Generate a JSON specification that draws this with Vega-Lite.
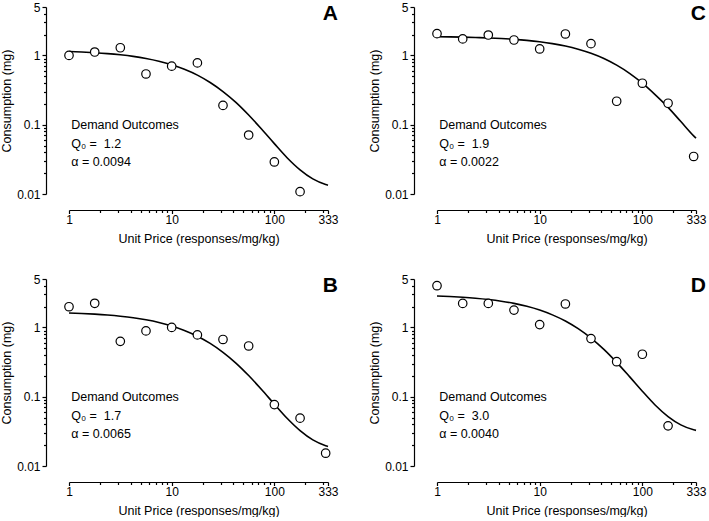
{
  "$schema": "https://vega.github.io/schema/vega-lite/v6.json",
  "padding": {"left": 0, "top": 1, "right": 0, "bottom": 0},
  "background": "white",
  "datasets": {
    "obs": [
      {"panel": "A", "price": 1, "consumption": 1.0},
      {"panel": "A", "price": 1.78, "consumption": 1.12},
      {"panel": "A", "price": 3.16, "consumption": 1.29},
      {"panel": "A", "price": 5.62, "consumption": 0.54},
      {"panel": "A", "price": 10, "consumption": 0.70},
      {"panel": "A", "price": 17.8, "consumption": 0.78},
      {"panel": "A", "price": 31.6, "consumption": 0.19},
      {"panel": "A", "price": 56.2, "consumption": 0.071},
      {"panel": "A", "price": 100, "consumption": 0.029},
      {"panel": "A", "price": 178, "consumption": 0.0108},
      {"panel": "B", "price": 1, "consumption": 1.99},
      {"panel": "B", "price": 1.78, "consumption": 2.23},
      {"panel": "B", "price": 3.16, "consumption": 0.63},
      {"panel": "B", "price": 5.62, "consumption": 0.89},
      {"panel": "B", "price": 10, "consumption": 1.0},
      {"panel": "B", "price": 17.8, "consumption": 0.78},
      {"panel": "B", "price": 31.6, "consumption": 0.67},
      {"panel": "B", "price": 56.2, "consumption": 0.54},
      {"panel": "B", "price": 100, "consumption": 0.077},
      {"panel": "B", "price": 178, "consumption": 0.049},
      {"panel": "B", "price": 316, "consumption": 0.0153},
      {"panel": "C", "price": 1, "consumption": 2.06},
      {"panel": "C", "price": 1.78, "consumption": 1.73},
      {"panel": "C", "price": 3.16, "consumption": 1.97},
      {"panel": "C", "price": 5.62, "consumption": 1.67},
      {"panel": "C", "price": 10, "consumption": 1.24},
      {"panel": "C", "price": 17.8, "consumption": 2.04},
      {"panel": "C", "price": 31.6, "consumption": 1.48},
      {"panel": "C", "price": 56.2, "consumption": 0.218},
      {"panel": "C", "price": 100, "consumption": 0.397},
      {"panel": "C", "price": 178, "consumption": 0.204},
      {"panel": "C", "price": 316, "consumption": 0.0348},
      {"panel": "D", "price": 1, "consumption": 4.0},
      {"panel": "D", "price": 1.78, "consumption": 2.22},
      {"panel": "D", "price": 3.16, "consumption": 2.22},
      {"panel": "D", "price": 5.62, "consumption": 1.78},
      {"panel": "D", "price": 10, "consumption": 1.10},
      {"panel": "D", "price": 17.8, "consumption": 2.18},
      {"panel": "D", "price": 31.6, "consumption": 0.69},
      {"panel": "D", "price": 56.2, "consumption": 0.32},
      {"panel": "D", "price": 100, "consumption": 0.41},
      {"panel": "D", "price": 178, "consumption": 0.038}
    ],
    "fit": [
      {"panel": "A", "price": 1, "consumption": 1.140},
      {"panel": "A", "price": 1.33, "consumption": 1.120},
      {"panel": "A", "price": 1.78, "consumption": 1.095},
      {"panel": "A", "price": 2.37, "consumption": 1.063},
      {"panel": "A", "price": 3.16, "consumption": 1.021},
      {"panel": "A", "price": 4.22, "consumption": 0.969},
      {"panel": "A", "price": 5.62, "consumption": 0.904},
      {"panel": "A", "price": 7.5, "consumption": 0.826},
      {"panel": "A", "price": 10, "consumption": 0.734},
      {"panel": "A", "price": 13.3, "consumption": 0.631},
      {"panel": "A", "price": 17.8, "consumption": 0.520},
      {"panel": "A", "price": 23.7, "consumption": 0.407},
      {"panel": "A", "price": 31.6, "consumption": 0.301},
      {"panel": "A", "price": 42.2, "consumption": 0.210},
      {"panel": "A", "price": 56.2, "consumption": 0.138},
      {"panel": "A", "price": 75, "consumption": 0.0866},
      {"panel": "A", "price": 100, "consumption": 0.0533},
      {"panel": "A", "price": 133, "consumption": 0.0334},
      {"panel": "A", "price": 178, "consumption": 0.0223},
      {"panel": "A", "price": 237, "consumption": 0.0165},
      {"panel": "A", "price": 316, "consumption": 0.0137},
      {"panel": "A", "price": 333, "consumption": 0.0134},
      {"panel": "B", "price": 1, "consumption": 1.616},
      {"panel": "B", "price": 1.33, "consumption": 1.589},
      {"panel": "B", "price": 1.78, "consumption": 1.554},
      {"panel": "B", "price": 2.37, "consumption": 1.509},
      {"panel": "B", "price": 3.16, "consumption": 1.451},
      {"panel": "B", "price": 4.22, "consumption": 1.379},
      {"panel": "B", "price": 5.62, "consumption": 1.288},
      {"panel": "B", "price": 7.5, "consumption": 1.179},
      {"panel": "B", "price": 10, "consumption": 1.050},
      {"panel": "B", "price": 13.3, "consumption": 0.905},
      {"panel": "B", "price": 17.8, "consumption": 0.747},
      {"panel": "B", "price": 23.7, "consumption": 0.588},
      {"panel": "B", "price": 31.6, "consumption": 0.437},
      {"panel": "B", "price": 42.2, "consumption": 0.306},
      {"panel": "B", "price": 56.2, "consumption": 0.202},
      {"panel": "B", "price": 75, "consumption": 0.127},
      {"panel": "B", "price": 100, "consumption": 0.0781},
      {"panel": "B", "price": 133, "consumption": 0.0488},
      {"panel": "B", "price": 178, "consumption": 0.0324},
      {"panel": "B", "price": 237, "consumption": 0.0238},
      {"panel": "B", "price": 316, "consumption": 0.0196},
      {"panel": "B", "price": 333, "consumption": 0.0191},
      {"panel": "C", "price": 1, "consumption": 1.864},
      {"panel": "C", "price": 1.33, "consumption": 1.852},
      {"panel": "C", "price": 1.78, "consumption": 1.836},
      {"panel": "C", "price": 2.37, "consumption": 1.816},
      {"panel": "C", "price": 3.16, "consumption": 1.789},
      {"panel": "C", "price": 4.22, "consumption": 1.753},
      {"panel": "C", "price": 5.62, "consumption": 1.707},
      {"panel": "C", "price": 7.5, "consumption": 1.648},
      {"panel": "C", "price": 10, "consumption": 1.573},
      {"panel": "C", "price": 13.3, "consumption": 1.480},
      {"panel": "C", "price": 17.8, "consumption": 1.366},
      {"panel": "C", "price": 23.7, "consumption": 1.230},
      {"panel": "C", "price": 31.6, "consumption": 1.074},
      {"panel": "C", "price": 42.2, "consumption": 0.903},
      {"panel": "C", "price": 56.2, "consumption": 0.724},
      {"panel": "C", "price": 75, "consumption": 0.552},
      {"panel": "C", "price": 100, "consumption": 0.398},
      {"panel": "C", "price": 133, "consumption": 0.272},
      {"panel": "C", "price": 178, "consumption": 0.178},
      {"panel": "C", "price": 237, "consumption": 0.111},
      {"panel": "C", "price": 316, "consumption": 0.069},
      {"panel": "C", "price": 333, "consumption": 0.064},
      {"panel": "D", "price": 1, "consumption": 2.840},
      {"panel": "D", "price": 1.33, "consumption": 2.789},
      {"panel": "D", "price": 1.78, "consumption": 2.722},
      {"panel": "D", "price": 2.37, "consumption": 2.637},
      {"panel": "D", "price": 3.16, "consumption": 2.527},
      {"panel": "D", "price": 4.22, "consumption": 2.390},
      {"panel": "D", "price": 5.62, "consumption": 2.222},
      {"panel": "D", "price": 7.5, "consumption": 2.018},
      {"panel": "D", "price": 10, "consumption": 1.782},
      {"panel": "D", "price": 13.3, "consumption": 1.518},
      {"panel": "D", "price": 17.8, "consumption": 1.238},
      {"panel": "D", "price": 23.7, "consumption": 0.959},
      {"panel": "D", "price": 31.6, "consumption": 0.701},
      {"panel": "D", "price": 42.2, "consumption": 0.482},
      {"panel": "D", "price": 56.2, "consumption": 0.313},
      {"panel": "D", "price": 75, "consumption": 0.195},
      {"panel": "D", "price": 100, "consumption": 0.120},
      {"panel": "D", "price": 133, "consumption": 0.0760},
      {"panel": "D", "price": 178, "consumption": 0.0517},
      {"panel": "D", "price": 237, "consumption": 0.0392},
      {"panel": "D", "price": 316, "consumption": 0.0333},
      {"panel": "D", "price": 333, "consumption": 0.0327}
    ],
    "notes": [
      {"panel": "A", "q0": "Q₀ =\u00a0\u00a01.2", "alpha": "α = 0.0094"},
      {"panel": "B", "q0": "Q₀ =\u00a0\u00a01.7", "alpha": "α = 0.0065"},
      {"panel": "C", "q0": "Q₀ =\u00a0\u00a01.9", "alpha": "α = 0.0022"},
      {"panel": "D", "q0": "Q₀ =\u00a0\u00a03.0", "alpha": "α = 0.0040"}
    ]
  },
  "columns": 2,
  "spacing": {"column": 29, "row": 28},
  "concat": [
    {
      "width": 259, "height": 187,
      "layer": [
        {"data": {"name": "fit"}, "transform": [{"filter": "datum.panel === 'A'"}], "mark": {"type": "line", "color": "black", "strokeWidth": 1.6, "interpolate": "monotone"},
         "encoding": {"x": {"field": "price", "type": "quantitative", "scale": {"type": "log", "domain": [1, 333], "nice": false}, "axis": {"title": "Unit Price (responses/mg/kg)", "values": [1, 2, 3, 4, 5, 6, 7, 8, 9, 10, 20, 30, 40, 50, 60, 70, 80, 90, 100, 200, 300, 333], "format": "~g", "labelExpr": "indexof([1, 10, 100, 333], datum.value) >= 0 ? datum.label : ''", "tickSize": {"condition": {"test": "indexof([1, 10, 100, 333], datum.value) >= 0", "value": 3.5}, "value": 2.5}, "offset": 16, "labelOverlap": false, "labelFlush": false, "labelPadding": 1, "titlePadding": 7}},
                      "y": {"field": "consumption", "type": "quantitative", "scale": {"type": "log", "domain": [0.01, 5], "nice": false}, "axis": {"title": "Consumption (mg)", "values": [0.01, 0.02, 0.03, 0.04, 0.05, 0.06, 0.07, 0.08, 0.09, 0.1, 0.2, 0.3, 0.4, 0.5, 0.6, 0.7, 0.8, 0.9, 1, 2, 3, 4, 5], "format": "~g", "labelExpr": "indexof([0.01, 0.1, 1, 5], datum.value) >= 0 ? datum.label : ''", "tickSize": {"condition": {"test": "indexof([0.01, 0.1, 1, 5], datum.value) >= 0", "value": 4}, "value": 2.5}, "offset": 23, "labelOverlap": false, "labelFlush": false, "labelPadding": 2, "titlePadding": 3}}}},
        {"data": {"name": "obs"}, "transform": [{"filter": "datum.panel === 'A'"}], "mark": {"type": "point", "shape": "circle", "filled": true, "fill": "white", "stroke": "black", "strokeWidth": 1.2, "size": 72, "opacity": 1},
         "encoding": {"x": {"field": "price", "type": "quantitative"}, "y": {"field": "consumption", "type": "quantitative"}}},
        {"data": {"name": "notes"}, "transform": [{"filter": "datum.panel === 'A'"}], "mark": {"type": "text", "align": "left", "baseline": "middle", "fontSize": 12.5},
         "encoding": {"x": {"datum": 1.05}, "y": {"datum": 0.1}, "text": {"value": "Demand Outcomes"}}},
        {"data": {"name": "notes"}, "transform": [{"filter": "datum.panel === 'A'"}], "mark": {"type": "text", "align": "left", "baseline": "middle", "fontSize": 12.5},
         "encoding": {"x": {"datum": 1.05}, "y": {"datum": 0.053}, "text": {"field": "q0"}}},
        {"data": {"name": "notes"}, "transform": [{"filter": "datum.panel === 'A'"}], "mark": {"type": "text", "align": "left", "baseline": "middle", "fontSize": 12.5},
         "encoding": {"x": {"datum": 1.05}, "y": {"datum": 0.0291}, "text": {"field": "alpha"}}},
        {"data": {"name": "notes"}, "transform": [{"filter": "datum.panel === 'A'"}], "mark": {"type": "text", "align": "right", "baseline": "alphabetic", "dx": 10, "fontSize": 21, "fontWeight": "bold"},
         "encoding": {"x": {"datum": 333}, "y": {"datum": 3.2}, "text": {"field": "panel"}}}
      ]
    },
    {
      "width": 259, "height": 187,
      "layer": [
        {"data": {"name": "fit"}, "transform": [{"filter": "datum.panel === 'C'"}], "mark": {"type": "line", "color": "black", "strokeWidth": 1.6, "interpolate": "monotone"},
         "encoding": {"x": {"field": "price", "type": "quantitative", "scale": {"type": "log", "domain": [1, 333], "nice": false}, "axis": {"title": "Unit Price (responses/mg/kg)", "values": [1, 2, 3, 4, 5, 6, 7, 8, 9, 10, 20, 30, 40, 50, 60, 70, 80, 90, 100, 200, 300, 333], "format": "~g", "labelExpr": "indexof([1, 10, 100, 333], datum.value) >= 0 ? datum.label : ''", "tickSize": {"condition": {"test": "indexof([1, 10, 100, 333], datum.value) >= 0", "value": 3.5}, "value": 2.5}, "offset": 16, "labelOverlap": false, "labelFlush": false, "labelPadding": 1, "titlePadding": 7}},
                      "y": {"field": "consumption", "type": "quantitative", "scale": {"type": "log", "domain": [0.01, 5], "nice": false}, "axis": {"title": "Consumption (mg)", "values": [0.01, 0.02, 0.03, 0.04, 0.05, 0.06, 0.07, 0.08, 0.09, 0.1, 0.2, 0.3, 0.4, 0.5, 0.6, 0.7, 0.8, 0.9, 1, 2, 3, 4, 5], "format": "~g", "labelExpr": "indexof([0.01, 0.1, 1, 5], datum.value) >= 0 ? datum.label : ''", "tickSize": {"condition": {"test": "indexof([0.01, 0.1, 1, 5], datum.value) >= 0", "value": 4}, "value": 2.5}, "offset": 23, "labelOverlap": false, "labelFlush": false, "labelPadding": 2, "titlePadding": 3}}}},
        {"data": {"name": "obs"}, "transform": [{"filter": "datum.panel === 'C'"}], "mark": {"type": "point", "shape": "circle", "filled": true, "fill": "white", "stroke": "black", "strokeWidth": 1.2, "size": 72, "opacity": 1},
         "encoding": {"x": {"field": "price", "type": "quantitative"}, "y": {"field": "consumption", "type": "quantitative"}}},
        {"data": {"name": "notes"}, "transform": [{"filter": "datum.panel === 'C'"}], "mark": {"type": "text", "align": "left", "baseline": "middle", "fontSize": 12.5},
         "encoding": {"x": {"datum": 1.05}, "y": {"datum": 0.1}, "text": {"value": "Demand Outcomes"}}},
        {"data": {"name": "notes"}, "transform": [{"filter": "datum.panel === 'C'"}], "mark": {"type": "text", "align": "left", "baseline": "middle", "fontSize": 12.5},
         "encoding": {"x": {"datum": 1.05}, "y": {"datum": 0.053}, "text": {"field": "q0"}}},
        {"data": {"name": "notes"}, "transform": [{"filter": "datum.panel === 'C'"}], "mark": {"type": "text", "align": "left", "baseline": "middle", "fontSize": 12.5},
         "encoding": {"x": {"datum": 1.05}, "y": {"datum": 0.0291}, "text": {"field": "alpha"}}},
        {"data": {"name": "notes"}, "transform": [{"filter": "datum.panel === 'C'"}], "mark": {"type": "text", "align": "right", "baseline": "alphabetic", "dx": 10, "fontSize": 21, "fontWeight": "bold"},
         "encoding": {"x": {"datum": 333}, "y": {"datum": 3.2}, "text": {"field": "panel"}}}
      ]
    },
    {
      "width": 259, "height": 187,
      "layer": [
        {"data": {"name": "fit"}, "transform": [{"filter": "datum.panel === 'B'"}], "mark": {"type": "line", "color": "black", "strokeWidth": 1.6, "interpolate": "monotone"},
         "encoding": {"x": {"field": "price", "type": "quantitative", "scale": {"type": "log", "domain": [1, 333], "nice": false}, "axis": {"title": "Unit Price (responses/mg/kg)", "values": [1, 2, 3, 4, 5, 6, 7, 8, 9, 10, 20, 30, 40, 50, 60, 70, 80, 90, 100, 200, 300, 333], "format": "~g", "labelExpr": "indexof([1, 10, 100, 333], datum.value) >= 0 ? datum.label : ''", "tickSize": {"condition": {"test": "indexof([1, 10, 100, 333], datum.value) >= 0", "value": 3.5}, "value": 2.5}, "offset": 16, "labelOverlap": false, "labelFlush": false, "labelPadding": 1, "titlePadding": 7}},
                      "y": {"field": "consumption", "type": "quantitative", "scale": {"type": "log", "domain": [0.01, 5], "nice": false}, "axis": {"title": "Consumption (mg)", "values": [0.01, 0.02, 0.03, 0.04, 0.05, 0.06, 0.07, 0.08, 0.09, 0.1, 0.2, 0.3, 0.4, 0.5, 0.6, 0.7, 0.8, 0.9, 1, 2, 3, 4, 5], "format": "~g", "labelExpr": "indexof([0.01, 0.1, 1, 5], datum.value) >= 0 ? datum.label : ''", "tickSize": {"condition": {"test": "indexof([0.01, 0.1, 1, 5], datum.value) >= 0", "value": 4}, "value": 2.5}, "offset": 23, "labelOverlap": false, "labelFlush": false, "labelPadding": 2, "titlePadding": 3}}}},
        {"data": {"name": "obs"}, "transform": [{"filter": "datum.panel === 'B'"}], "mark": {"type": "point", "shape": "circle", "filled": true, "fill": "white", "stroke": "black", "strokeWidth": 1.2, "size": 72, "opacity": 1},
         "encoding": {"x": {"field": "price", "type": "quantitative"}, "y": {"field": "consumption", "type": "quantitative"}}},
        {"data": {"name": "notes"}, "transform": [{"filter": "datum.panel === 'B'"}], "mark": {"type": "text", "align": "left", "baseline": "middle", "fontSize": 12.5},
         "encoding": {"x": {"datum": 1.05}, "y": {"datum": 0.1}, "text": {"value": "Demand Outcomes"}}},
        {"data": {"name": "notes"}, "transform": [{"filter": "datum.panel === 'B'"}], "mark": {"type": "text", "align": "left", "baseline": "middle", "fontSize": 12.5},
         "encoding": {"x": {"datum": 1.05}, "y": {"datum": 0.053}, "text": {"field": "q0"}}},
        {"data": {"name": "notes"}, "transform": [{"filter": "datum.panel === 'B'"}], "mark": {"type": "text", "align": "left", "baseline": "middle", "fontSize": 12.5},
         "encoding": {"x": {"datum": 1.05}, "y": {"datum": 0.0291}, "text": {"field": "alpha"}}},
        {"data": {"name": "notes"}, "transform": [{"filter": "datum.panel === 'B'"}], "mark": {"type": "text", "align": "right", "baseline": "alphabetic", "dx": 10, "fontSize": 21, "fontWeight": "bold"},
         "encoding": {"x": {"datum": 333}, "y": {"datum": 3.2}, "text": {"field": "panel"}}}
      ]
    },
    {
      "width": 259, "height": 187,
      "layer": [
        {"data": {"name": "fit"}, "transform": [{"filter": "datum.panel === 'D'"}], "mark": {"type": "line", "color": "black", "strokeWidth": 1.6, "interpolate": "monotone"},
         "encoding": {"x": {"field": "price", "type": "quantitative", "scale": {"type": "log", "domain": [1, 333], "nice": false}, "axis": {"title": "Unit Price (responses/mg/kg)", "values": [1, 2, 3, 4, 5, 6, 7, 8, 9, 10, 20, 30, 40, 50, 60, 70, 80, 90, 100, 200, 300, 333], "format": "~g", "labelExpr": "indexof([1, 10, 100, 333], datum.value) >= 0 ? datum.label : ''", "tickSize": {"condition": {"test": "indexof([1, 10, 100, 333], datum.value) >= 0", "value": 3.5}, "value": 2.5}, "offset": 16, "labelOverlap": false, "labelFlush": false, "labelPadding": 1, "titlePadding": 7}},
                      "y": {"field": "consumption", "type": "quantitative", "scale": {"type": "log", "domain": [0.01, 5], "nice": false}, "axis": {"title": "Consumption (mg)", "values": [0.01, 0.02, 0.03, 0.04, 0.05, 0.06, 0.07, 0.08, 0.09, 0.1, 0.2, 0.3, 0.4, 0.5, 0.6, 0.7, 0.8, 0.9, 1, 2, 3, 4, 5], "format": "~g", "labelExpr": "indexof([0.01, 0.1, 1, 5], datum.value) >= 0 ? datum.label : ''", "tickSize": {"condition": {"test": "indexof([0.01, 0.1, 1, 5], datum.value) >= 0", "value": 4}, "value": 2.5}, "offset": 23, "labelOverlap": false, "labelFlush": false, "labelPadding": 2, "titlePadding": 3}}}},
        {"data": {"name": "obs"}, "transform": [{"filter": "datum.panel === 'D'"}], "mark": {"type": "point", "shape": "circle", "filled": true, "fill": "white", "stroke": "black", "strokeWidth": 1.2, "size": 72, "opacity": 1},
         "encoding": {"x": {"field": "price", "type": "quantitative"}, "y": {"field": "consumption", "type": "quantitative"}}},
        {"data": {"name": "notes"}, "transform": [{"filter": "datum.panel === 'D'"}], "mark": {"type": "text", "align": "left", "baseline": "middle", "fontSize": 12.5},
         "encoding": {"x": {"datum": 1.05}, "y": {"datum": 0.1}, "text": {"value": "Demand Outcomes"}}},
        {"data": {"name": "notes"}, "transform": [{"filter": "datum.panel === 'D'"}], "mark": {"type": "text", "align": "left", "baseline": "middle", "fontSize": 12.5},
         "encoding": {"x": {"datum": 1.05}, "y": {"datum": 0.053}, "text": {"field": "q0"}}},
        {"data": {"name": "notes"}, "transform": [{"filter": "datum.panel === 'D'"}], "mark": {"type": "text", "align": "left", "baseline": "middle", "fontSize": 12.5},
         "encoding": {"x": {"datum": 1.05}, "y": {"datum": 0.0291}, "text": {"field": "alpha"}}},
        {"data": {"name": "notes"}, "transform": [{"filter": "datum.panel === 'D'"}], "mark": {"type": "text", "align": "right", "baseline": "alphabetic", "dx": 10, "fontSize": 21, "fontWeight": "bold"},
         "encoding": {"x": {"datum": 333}, "y": {"datum": 3.2}, "text": {"field": "panel"}}}
      ]
    }
  ],
  "config": {
    "view": {"stroke": null},
    "font": "Liberation Sans",
    "text": {"font": "Liberation Sans", "color": "black"},
    "axis": {
      "grid": false,
      "domainColor": "black",
      "domainWidth": 1.2,
      "tickColor": "black",
      "tickWidth": 1.2,
      "labelColor": "black",
      "titleColor": "black",
      "labelFont": "Liberation Sans",
      "titleFont": "Liberation Sans",
      "labelFontSize": 12,
      "titleFontSize": 12.5,
      "titleFontWeight": "normal"
    }
  }
}
